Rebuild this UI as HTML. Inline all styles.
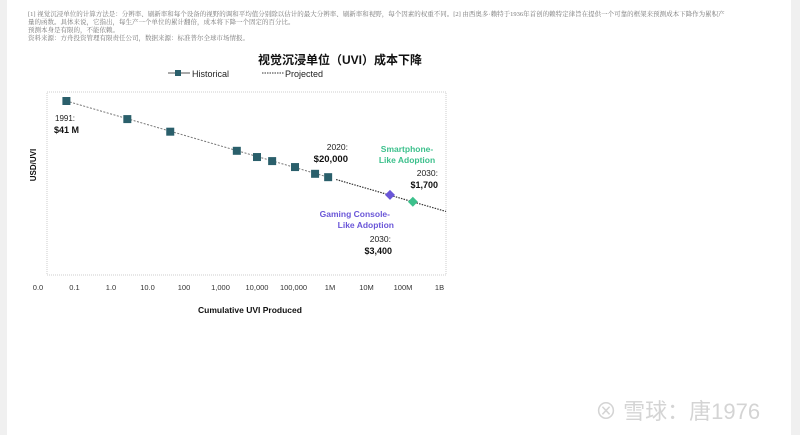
<!DOCTYPE html>
<html><head><meta charset="utf-8"><style>
body{margin:0;width:800px;height:435px;background:#fff;overflow:hidden;position:relative;font-family:"Liberation Sans","Noto Sans CJK SC",sans-serif}
.note{position:absolute;left:28px;top:11px;font-size:6.5px;line-height:8px;color:#777;font-family:"Liberation Serif","Noto Serif CJK SC",serif;white-space:nowrap}
</style></head><body>
<div style="position:absolute;left:0;top:0;width:7px;height:435px;background:#f0f0f0"></div>
<div style="position:absolute;right:0;top:0;width:9px;height:435px;background:#f0f0f0"></div>
<div class="note">[1] 视觉沉浸单位的计算方法是：分辨率、刷新率和每个设备的视野的调和平均值分别除以估计的最大分辨率、刷新率和视野，每个因素的权重不同。[2] 由西奥多·赖特于1936年首创的赖特定律旨在提供一个可靠的框架来预测成本下降作为累积产<br>量的函数。具体来说，它指出，每生产一个单位的累计翻倍，成本将下降一个固定的百分比。<br>预测本身是有限的，不能依赖。<br>资料来源：方舟投资管理有限责任公司，数据来源：标准普尔全球市场情报。</div>
<svg id="chart" width="800" height="435" style="position:absolute;left:0;top:0">
<text x="340" y="64" text-anchor="middle" font-size="12" font-weight="bold" fill="#111">视觉沉浸单位（UVI）成本下降</text>
<g>
<line x1="168" y1="73" x2="190" y2="73" stroke="#555" stroke-width="1"/>
<rect x="175" y="70" width="6" height="6" fill="#2a5f6b"/>
<text x="192" y="77" font-size="9" fill="#222">Historical</text>
<line x1="262" y1="73" x2="284" y2="73" stroke="#333" stroke-width="1" stroke-dasharray="1.5,1"/>
<text x="285" y="77" font-size="9" fill="#222">Projected</text>
</g>
<rect x="47" y="92" width="399" height="183" fill="none" stroke="#ccc" stroke-dasharray="1,1"/>
<text transform="translate(36,165) rotate(-90)" text-anchor="middle" font-size="8" font-weight="bold" fill="#111">USD/UVI</text>
<text x="250" y="313" text-anchor="middle" font-size="8.5" font-weight="bold" fill="#111">Cumulative UVI Produced</text>
<g id="xt"></g><g id="marks"></g>
<text x="55" y="121" font-size="8" fill="#222">1991:</text>
<text x="54" y="133" font-size="9" font-weight="bold" fill="#111">$41 M</text>
<text x="348" y="150" text-anchor="end" font-size="8.5" fill="#222">2020:</text>
<text x="348" y="162" text-anchor="end" font-size="9.5" font-weight="bold" fill="#111">$20,000</text>
<text x="407" y="152" text-anchor="middle" font-size="8.5" font-weight="bold" fill="#3cc08c">Smartphone-</text>
<text x="407" y="163" text-anchor="middle" font-size="8.5" font-weight="bold" fill="#3cc08c">Like Adoption</text>
<text x="438" y="176" text-anchor="end" font-size="8.5" fill="#222">2030:</text>
<text x="438" y="188" text-anchor="end" font-size="9" font-weight="bold" fill="#111">$1,700</text>
<text x="390" y="217" text-anchor="end" font-size="8.5" font-weight="bold" fill="#6a56d8">Gaming Console-</text>
<text x="394" y="228" text-anchor="end" font-size="8.5" font-weight="bold" fill="#6a56d8">Like Adoption</text>
<text x="391" y="242" text-anchor="end" font-size="8.5" fill="#222">2030:</text>
<text x="392" y="254" text-anchor="end" font-size="9" font-weight="bold" fill="#111">$3,400</text>
<text x="595" y="419" font-size="22" fill="#d4d4d4">⊗ 雪球：唐1976</text>
</svg>
<script>
const tickLabels=["0.0","0.1","1.0","10.0","100","1,000","10,000","100,000","1M","10M","100M","1B"];
const histUnits=[0.06,2.8,42,2800,10000,26000,110000,390000,890000];
const histCost=[41e6,6.7e6,1.9e6,280000,150000,100000,55000,28000,20000];
const projUnits=[44e6,186e6];
const projCost=[3400,1700];
const projNames=["gaming-console","smartphone"];
const projColors=["#6a56d8","#3cc08c"];
const ns="http://www.w3.org/2000/svg";
function xs(v){return 38+(Math.log10(v)+2)*36.5;}
function ys(v){return 101+(Math.log10(41e6)-Math.log10(v))*23;}
function mk(t,a,p){const e=document.createElementNS(ns,t);for(const k in a)e.setAttribute(k,a[k]);p.appendChild(e);return e;}
const xt=document.getElementById('xt'),m=document.getElementById('marks');
tickLabels.forEach((l,i)=>{const t=mk('text',{x:xs(Math.pow(10,i-2)),y:290,'text-anchor':'middle','font-size':'7.5',fill:'#333'},xt);t.textContent=l;

});
// trend line
const x0=xs(histUnits[0]),y0=ys(histCost[0]);
const xl=xs(histUnits[histUnits.length-1]),yl=ys(histCost[histCost.length-1]);
const sl=(yl-y0)/(xl-x0);
const h=mk('line',{x1:x0,y1:y0,x2:xl,y2:yl,stroke:'#777','stroke-width':1,'stroke-dasharray':'2,1.5'},m);


const p=mk('line',{x1:xl+8,y1:yl+8*sl,x2:446,y2:yl+(446-xl)*sl,stroke:'#333','stroke-width':1.2,'stroke-dasharray':'1.5,1.2'},m);


histUnits.forEach((u,i)=>{const r=mk('rect',{x:xs(u)-4,y:ys(histCost[i])-4,width:8,height:8,fill:'#2a5f6b'},m);

});
projUnits.forEach((u,i)=>{const cx=xs(u),cy=ys(projCost[i]);const d=mk('polygon',{points:`${cx},${cy-5} ${cx+5},${cy} ${cx},${cy+5} ${cx-5},${cy}`,fill:projColors[i]},m);

});
</script>
</body></html>
